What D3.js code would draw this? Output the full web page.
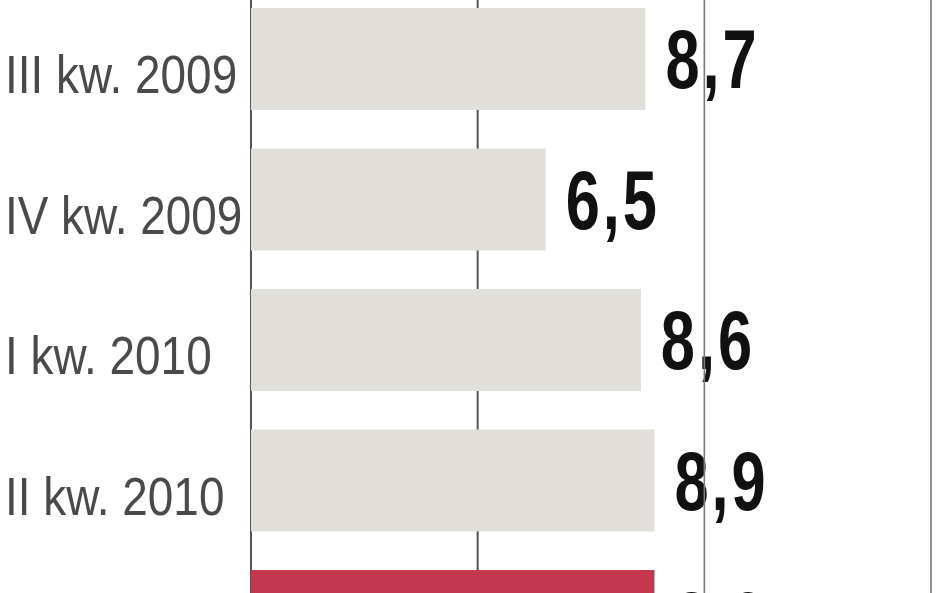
<!DOCTYPE html>
<html>
<head>
<meta charset="utf-8">
<script src="https://cdn.jsdelivr.net/npm/d3@7"></script>
<style>
  html, body { margin: 0; padding: 0; background: #ffffff; overflow: hidden; }
  svg { display: block; }
</style>
</head>
<body>
<svg id="chart" width="948" height="593"></svg>
<script>
const categories = ["III kw. 2009", "IV kw. 2009", "I kw. 2010", "II kw. 2010", "III kw. 2010"];
const values = [8.7, 6.5, 8.6, 8.9, 8.9];
const valueLabels = ["8,7", "6,5", "8,6", "8,9", "8,9"];
const gridTicks = [0, 5, 10, 15];
const highlight = "III kw. 2010";

const W = 948, H = 593;
const svg = d3.select("#chart");

const x = d3.scaleLinear().domain([0, 15]).range([251, 931]);
const y = d3.scaleBand()
  .domain(categories)
  .range([-11.25, -11.25 + 140.5 * categories.length])
  .paddingInner(0.274)
  .paddingOuter(0.137);

const data = categories.map((c, i) => ({ cat: c, val: values[i], label: valueLabels[i] }));

// category labels
svg.append("g").selectAll("text")
  .data(data).join("text")
  .attr("transform", d => `translate(5,${y(d.cat) + y.bandwidth() / 2 + 34}) scale(0.85,1)`)
  .attr("font-family", "'Liberation Sans', Arial, sans-serif")
  .attr("font-size", 54)
  .attr("fill", "#4a4a4a")
  .text(d => d.cat);

// value labels
svg.append("g").selectAll("text")
  .data(data).join("text")
  .attr("transform", d => `translate(${x(d.val) + 20},${y(d.cat) + y.bandwidth() / 2 + 29}) scale(0.74,1)`)
  .attr("font-family", "'Liberation Sans', Arial, sans-serif")
  .attr("font-weight", "bold")
  .attr("font-size", 83)
  .attr("letter-spacing", 4)
  .attr("fill", "#111")
  .text(d => d.label);

// gridlines
svg.append("g").selectAll("line")
  .data(gridTicks).join("line")
  .attr("x1", d => x(d)).attr("x2", d => x(d))
  .attr("y1", 0).attr("y2", H)
  .attr("stroke", d => d < 10 ? "#555" : "#7a7a7a")
  .attr("stroke-width", d => d < 10 ? 2 : 1.6);

// bars
svg.append("g").selectAll("rect")
  .data(data).join("rect")
  .attr("x", x(0))
  .attr("y", d => y(d.cat))
  .attr("width", d => x(d.val) - x(0))
  .attr("height", y.bandwidth())
  .attr("fill", d => d.cat === highlight ? "#c3384f" : "#e0dfd9");
</script>
</body>
</html>
